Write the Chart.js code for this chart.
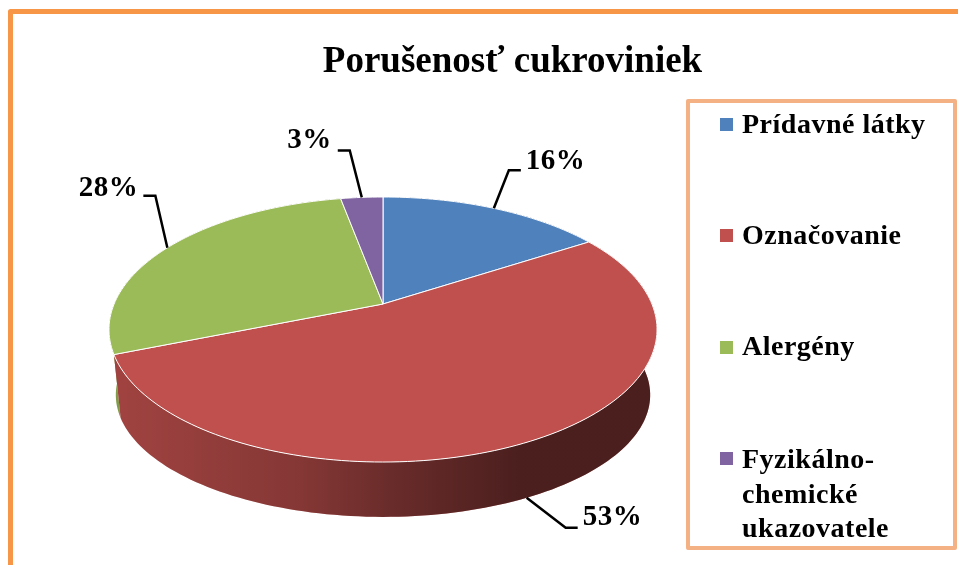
<!DOCTYPE html>
<html>
<head>
<meta charset="utf-8">
<title>Porušenosť cukroviniek</title>
<script src="https://cdn.jsdelivr.net/npm/chart.js@4/dist/chart.umd.min.js"></script>
<style>
    html, body { margin: 0; padding: 0; background: #fff; overflow: hidden; }
    canvas { display: block; filter: blur(0.4px); }
</style>
</head>
<body>
<canvas id="pie" width="958" height="565"></canvas>
<script>
const chartTitle = 'Porušenosť cukroviniek';
const categories = ['Prídavné látky', 'Označovanie', 'Alergény', 'Fyzikálno-chemické ukazovatele'];
const legendLines = [['Prídavné látky'], ['Označovanie'], ['Alergény'], ['Fyzikálno-', 'chemické', 'ukazovatele']];
const values = [16, 53, 28, 3];
const sliceColors = ['#4f81bd', '#c0504d', '#9bbb59', '#8064a2'];

const SERIF = '"Liberation Serif", "Times New Roman", serif';

// perspective of the tilted disc: apex of the slices, and how the unit circle lands on screen
const disc = { cx: 383, cy: 304, kx: 268.9, ky: 127.6, persp: 0.1925 };
// lower rim of the wall
const wall = { drop: 67.5, shrinkX: 0.975, shrinkY: 0.92 };

// label placing, relative to the point on the rim: elbow of the leader, end of the leader, text
const labelLayout = [
    { elbow: [15, -38], end: [27, -38], text: [32, -39] },
    { elbow: [39, 30], end: [51, 30], text: [56, 27] },
    { elbow: [-12, -52], end: [-24, -52], text: [-29, -52] },
    { elbow: [-12, -47], end: [-24, -47], text: [-30, -49] }
];
const legendBox = { left: 688, top: 101, width: 267, height: 447 };
const legendMarkers = [118, 229, 341, 452];
const legendBaselines = [[133], [244], [355], [468, 503, 537]];

function project(angle, lower) {
    const u = Math.cos(angle), v = Math.sin(angle);
    const w = 1 - disc.persp * v;
    return {
        x: disc.cx + (lower ? wall.shrinkX : 1) * disc.kx * u / w,
        y: disc.cy + (lower ? wall.drop : 0) + (lower ? wall.shrinkY : 1) * disc.ky * v / w
    };
}

function rim(arc, lower) {
    const steps = Math.max(2, Math.ceil((arc.endAngle - arc.startAngle) * 40));
    const pts = [];
    for (let i = 0; i <= steps; i++) {
        pts.push(project(arc.startAngle + (arc.endAngle - arc.startAngle) * i / steps, lower));
    }
    return pts;
}

// the stock arc can only draw a circle, this one follows the disc
Chart.ArcElement.prototype.draw = function(ctx) {
    ctx.save();
    ctx.beginPath();
    ctx.moveTo(disc.cx, disc.cy);
    rim(this, false).forEach(p => ctx.lineTo(p.x, p.y));
    ctx.closePath();
    ctx.fillStyle = this.options.backgroundColor;
    ctx.fill();
    ctx.strokeStyle = this.options.borderColor;
    ctx.lineWidth = this.options.borderWidth;
    ctx.lineJoin = 'round';
    ctx.stroke();
    ctx.restore();
};

const frame3d = {
    id: 'frame3d',
    beforeDraw(chart) {
        const ctx = chart.ctx;
        ctx.save();
        ctx.fillStyle = '#fff';
        ctx.fillRect(0, 0, chart.width, chart.height);
        ctx.strokeStyle = '#f79646';
        ctx.lineWidth = 5;
        ctx.lineJoin = 'round';
        ctx.strokeRect(10.5, 11.5, 1000, 1000);
        ctx.restore();
    },
    beforeDatasetsDraw(chart) {
        const ctx = chart.ctx;
        const arcs = chart.getDatasetMeta(0).data;
        const shade = ctx.createLinearGradient(120, 0, 520, 0);
        shade.addColorStop(0, 'rgba(0,0,0,0.17)');
        shade.addColorStop(0.45, 'rgba(0,0,0,0.31)');
        shade.addColorStop(0.675, 'rgba(0,0,0,0.45)');
        shade.addColorStop(1, 'rgba(0,0,0,0.61)');
        ctx.save();
        [2, 3, 0, 1].forEach(i => {
            const top = rim(arcs[i], false);
            const bottom = rim(arcs[i], true).reverse();
            ctx.beginPath();
            top.concat(bottom).forEach((p, n) => n ? ctx.lineTo(p.x, p.y) : ctx.moveTo(p.x, p.y));
            ctx.closePath();
            ctx.fillStyle = sliceColors[i];
            ctx.fill();
            ctx.fillStyle = shade;
            ctx.fill();
        });
        ctx.restore();
    },
    afterDraw(chart) {
        const ctx = chart.ctx;
        const arcs = chart.getDatasetMeta(0).data;
        const total = values.reduce((a, b) => a + b, 0);
        ctx.save();
        ctx.textBaseline = 'alphabetic';
        ctx.textAlign = 'left';
        ctx.fillStyle = '#000';

        // data labels with leaders
        ctx.strokeStyle = '#000';
        ctx.lineWidth = 2.5;
        ctx.lineJoin = 'miter';
        ctx.font = 'bold 29px ' + SERIF;
        ctx.letterSpacing = '0.5px';
        arcs.forEach((arc, i) => {
            const mid = (arc.startAngle + arc.endAngle) / 2;
            const onWall = Math.sin(mid) > 0;
            const a = project(mid, onWall);
            const lay = labelLayout[i];
            ctx.beginPath();
            ctx.moveTo(a.x, a.y);
            ctx.lineTo(a.x + lay.elbow[0], a.y + lay.elbow[1]);
            ctx.lineTo(a.x + lay.end[0], a.y + lay.end[1]);
            ctx.stroke();
            const txt = Math.round(values[i] / total * 100) + '%';
            ctx.textAlign = lay.text[0] < 0 ? 'right' : 'left';
            ctx.fillText(txt, a.x + lay.text[0], a.y + lay.text[1]);
        });

        // legend
        ctx.textAlign = 'left';
        ctx.strokeStyle = '#f4b183';
        ctx.lineWidth = 4;
        ctx.lineJoin = 'round';
        ctx.strokeRect(legendBox.left, legendBox.top, legendBox.width, legendBox.height);
        ctx.font = 'bold 28px ' + SERIF;
        ctx.letterSpacing = '0.5px';
        legendLines.forEach((lines, i) => {
            ctx.fillStyle = sliceColors[i];
            ctx.fillRect(720, legendMarkers[i], 13, 13);
            ctx.fillStyle = '#000';
            lines.forEach((line, n) => ctx.fillText(line, 742, legendBaselines[i][n]));
        });
        ctx.restore();
    }
};

new Chart(document.getElementById('pie'), {
    type: 'pie',
    data: {
        labels: categories,
        datasets: [{
            data: values,
            backgroundColor: sliceColors,
            borderColor: '#fff',
            borderWidth: 1
        }]
    },
    options: {
        responsive: false,
        animation: false,
        layout: { padding: { left: 67 } },
        plugins: {
            legend: { display: false },
            tooltip: { enabled: false },
            title: {
                display: true,
                text: chartTitle,
                color: '#000',
                font: { family: SERIF, size: 37, weight: 'bold' },
                padding: { top: 40, bottom: 10 }
            }
        }
    },
    plugins: [frame3d]
});
</script>
</body>
</html>
